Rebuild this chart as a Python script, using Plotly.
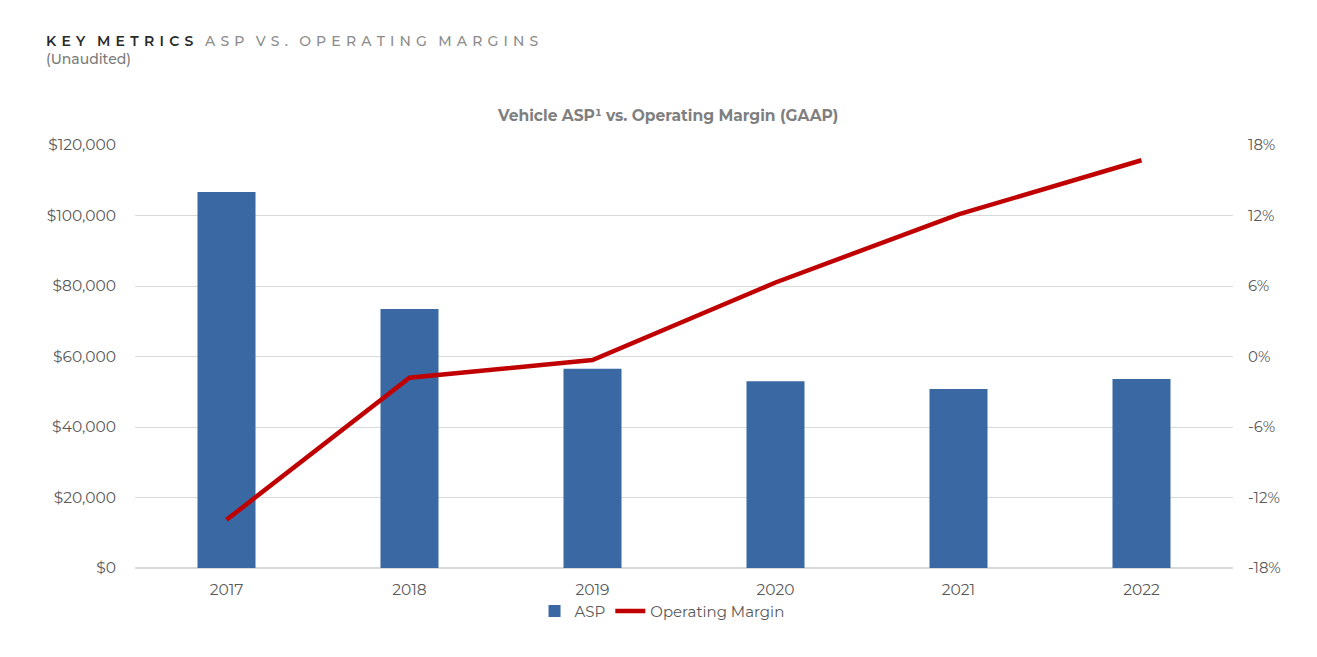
import plotly.graph_objects as go

years = ["2017", "2018", "2019", "2020", "2021", "2022"]
asp = [106700, 73500, 56500, 53000, 50800, 53600]
op_margin = [-13.9, -1.8, -0.3, 6.3, 12.1, 16.7]
margin_ticks = [-18, -12, -6, 0, 6, 12, 18]
margin_tick_labels = ["-18%", "-12%", "-6%", "0%", "6%", "12%", "18%"]

font_family = "Montserrat, 'Open Sans', 'Noto Sans', sans-serif"


def spaced(s):
    return " \u200a".join(s)


fig = go.Figure()
fig.add_trace(go.Bar(
    x=years, y=asp, name="ASP",
    marker=dict(color="#3a68a3", line=dict(width=0)),
    width=0.317,
))
fig.add_trace(go.Scatter(
    x=years, y=op_margin, name="Operating Margin", yaxis="y2",
    mode="lines", line=dict(color="#c00000", width=4.5),
))

fig.update_layout(
    width=1317, height=657,
    margin=dict(l=127, r=92, t=137, b=97),
    paper_bgcolor="white", plot_bgcolor="white",
    font=dict(family=font_family, color="#595959", size=15),
    showlegend=True,
    legend=dict(orientation="h", x=0.48, xanchor="center", y=-0.063, yanchor="top",
                font=dict(size=15, color="#595959"), itemwidth=30, tracegroupgap=0),
    xaxis=dict(showgrid=False, showline=False, ticks="", tickfont=dict(size=15.5),
               ticklabelstandoff=10),
    yaxis=dict(range=[0, 120000], dtick=20000, tickprefix="$", tickformat=",",
               showgrid=True, gridcolor="#d9d9d9", gridwidth=1, zeroline=True,
               zerolinecolor="#d9d9d9", ticks="", ticklabelstandoff=18,
               tickfont=dict(size=15.5)),
    yaxis2=dict(range=[-18, 18], tickvals=margin_ticks, ticktext=margin_tick_labels,
                overlaying="y", side="right",
                showgrid=False, zeroline=False, ticks="", ticklabelstandoff=14),
    bargap=0.683,
    annotations=[
        dict(text=spaced("KEY") + "   " + spaced("METRICS"),
             xref="paper", yref="paper", x=0, y=1, xanchor="left", yanchor="middle",
             xshift=-91, yshift=104, showarrow=False,
             font=dict(size=14, color="#2a2a2a", weight=600)),
        dict(text=spaced("ASP") + "   " + spaced("VS.") + "   "
             + spaced("OPERATING") + "   " + spaced("MARGINS"),
             xref="paper", yref="paper", x=0, y=1, xanchor="left", yanchor="middle",
             xshift=67, yshift=104, showarrow=False,
             font=dict(size=14, color="#8c8c8c", weight=500)),
        dict(text="(Unaudited)", xref="paper", yref="paper", x=0, y=1,
             xanchor="left", yanchor="middle", xshift=-91, yshift=86, showarrow=False,
             font=dict(size=14, color="#7a7a7a", weight=500)),
        dict(text="<b>Vehicle ASP¹ vs. Operating Margin (GAAP)</b>", xref="paper", yref="paper",
             x=(667 - 135) / 1098, y=1.0, yshift=30, xanchor="center", yanchor="middle",
             showarrow=False, font=dict(size=15.5, color="#7f7f7f")),
    ],
)

fig.write_html("out.html")
